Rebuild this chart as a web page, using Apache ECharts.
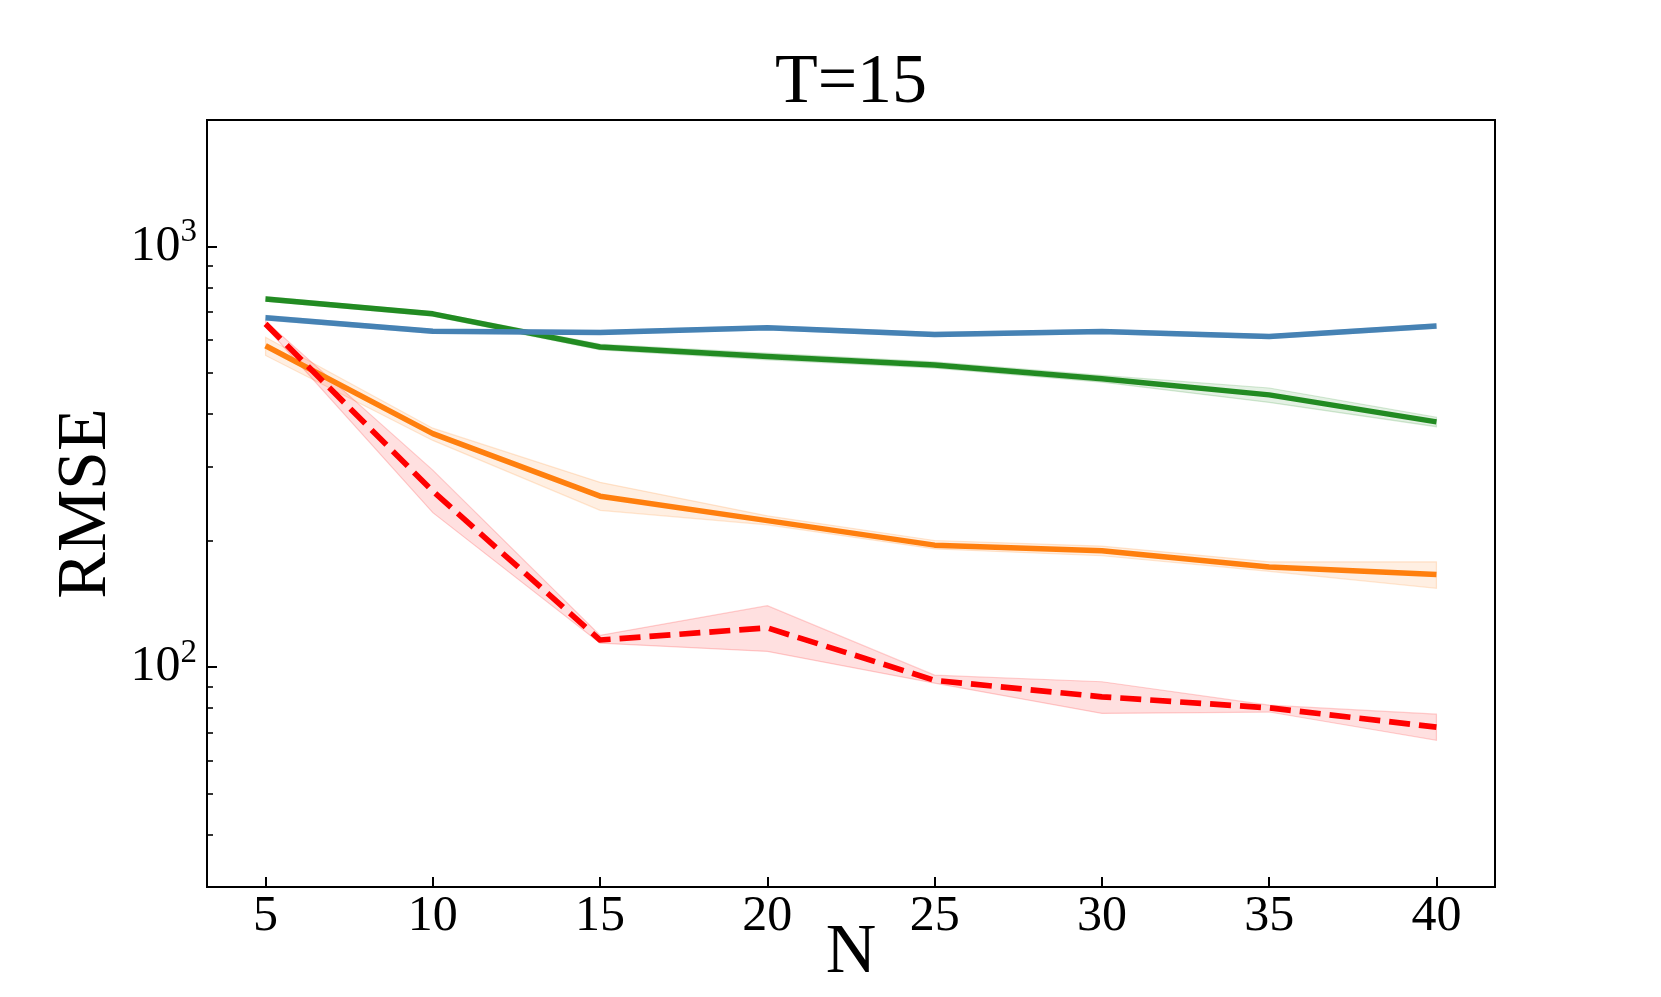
<!DOCTYPE html>
<html>
<head>
<meta charset="utf-8">
<script src="https://cdn.jsdelivr.net/npm/echarts@6/dist/echarts.min.js"></script>
<style>
html,body{margin:0;padding:0;background:#fff;}
#chart{width:1661px;height:997px;}
</style>
</head>
<body>
<div id="chart"></div>
<script>
// ---- data ----
const N = [5, 10, 15, 20, 25, 30, 35, 40];
const xTicks = [5, 10, 15, 20, 25, 30, 35, 40];
const yMajorTicks = [100, 1000];
const yMinorTicks = [40, 50, 60, 70, 80, 90, 200, 300, 400, 500, 600, 700, 800, 900];

const blueMean   = [677, 629, 625, 641, 618, 628, 611, 647];
const blueLo     = [668, 622, 618, 634, 611, 621, 604, 639];
const blueHi     = [686, 636, 632, 648, 625, 635, 618, 655];

const greenMean  = [751, 692, 577, 548, 523, 485, 444, 383];
const greenLo    = [742, 683, 568, 538, 514, 476, 426, 373];
const greenHi    = [760, 700, 586, 558, 532, 494, 461, 393];

const orangeMean = [581, 359, 255, 223, 195, 189, 173, 166];
const orangeLo   = [551, 346, 236, 218, 191, 184, 169, 154];
const orangeHi   = [609, 370, 275, 229, 200, 194, 178, 178];

const redMean    = [655, 262, 116, 124, 93, 85, 80, 72];
const redLo      = [645, 233, 114, 109, 91.6, 77.6, 78.2, 67];
const redHi      = [665, 294, 119, 140, 95.7, 92.3, 81.2, 77.3];

const titleText = 'T=15';
const xName = 'N';
const yName = 'RMSE';

// ---- chart ----
const FONT = '"Liberation Serif", "DejaVu Serif", serif';
const chart = echarts.init(document.getElementById('chart'), null, {renderer: 'canvas'});

function pairs(ys) { return N.map((x, i) => [x, ys[i]]); }

// shaded band between lo and hi, drawn as one polygon through the axis scales
function band(name, lo, hi, rgb, alpha) {
  const rows = N.map((x, i) => [x, lo[i], hi[i]]);
  return {
    type: 'custom', name: name + ' band', data: rows, silent: true, z: 1,
    encode: {x: 0, y: [1, 2]},
    renderItem: function (params, api) {
      if (params.dataIndex !== 0) return null;
      const upper = rows.map(r => api.coord([r[0], r[2]]));
      const lower = rows.map(r => api.coord([r[0], r[1]])).reverse();
      return {
        type: 'polygon',
        shape: {points: upper.concat(lower)},
        style: {
          fill: 'rgba(' + rgb + ',' + alpha + ')',
          stroke: 'rgba(' + rgb + ',' + (alpha + 0.06) + ')',
          lineWidth: 1.2
        }
      };
    }
  };
}

function mainLine(name, ys, color, dashed) {
  return {
    type: 'line', name: name, data: pairs(ys), symbol: 'none', z: 3,
    lineStyle: {
      width: dashed ? 5.7 : 5.5, color: color, join: 'round',
      type: dashed ? [21, 9] : 'solid', cap: 'butt'
    }
  };
}

const series = [
  band('green', greenLo, greenHi, '34,139,34', 0.12),
  band('blue', blueLo, blueHi, '70,130,180', 0.12),
  band('orange', orangeLo, orangeHi, '255,127,14', 0.12),
  band('red', redLo, redHi, '255,0,0', 0.12),
  mainLine('green', greenMean, '#228b22', false),
  mainLine('blue', blueMean, '#4682b4', false),
  mainLine('orange', orangeMean, '#ff7f0e', false),
  mainLine('red', redMean, '#ff0000', true)
];

const option = {
  animation: false,
  backgroundColor: '#ffffff',
  grid: {
    left: 207, top: 120, width: 1288, height: 767,
    outerBoundsMode: 'none', containLabel: false,
    show: true, borderColor: '#000', borderWidth: 2, backgroundColor: 'transparent'
  },
  graphic: [{
    type: 'text', x: 851, y: 84, silent: true,
    style: {text: titleText, font: '70px ' + FONT, fill: '#000', align: 'center', verticalAlign: 'middle'}
  }],
  xAxis: {
    type: 'value', min: 3.25, max: 41.75,
    name: xName, nameLocation: 'middle', nameGap: 32, nameMoveOverlap: false,
    nameTextStyle: {fontFamily: FONT, fontSize: 70, color: '#000'},
    axisLine: {show: true, lineStyle: {color: '#000', width: 2}},
    axisTick: {show: true, inside: true, length: 10, customValues: xTicks, lineStyle: {color: '#000', width: 2}},
    axisLabel: {show: true, customValues: xTicks, margin: 5, fontFamily: FONT, fontSize: 50, color: '#000'},
    splitLine: {show: false}
  },
  yAxis: [
    {
      type: 'log', logBase: 10, min: 30, max: 2000,
      name: yName, nameLocation: 'middle', nameGap: 85, nameRotate: 90, nameMoveOverlap: false,
      nameTextStyle: {fontFamily: FONT, fontSize: 70, color: '#000'},
      axisLine: {show: true, lineStyle: {color: '#000', width: 2}},
      axisTick: {show: true, inside: true, length: 10, customValues: yMajorTicks, lineStyle: {color: '#000', width: 2}},
      axisLabel: {
        show: true, customValues: yMajorTicks, margin: 10,
        formatter: function (v) { return '{b|10}{s|' + Math.round(Math.log10(v)) + '}'; },
        rich: {
          b: {fontFamily: FONT, fontSize: 50, color: '#000', lineHeight: 56},
          s: {fontFamily: FONT, fontSize: 33, color: '#000', lineHeight: 33, padding: [0, 0, 28, 0]}
        }
      },
      splitLine: {show: false}, minorTick: {show: false}
    },
    {
      type: 'log', logBase: 10, min: 30, max: 2000, position: 'left',
      axisLine: {show: false},
      axisTick: {show: true, inside: true, length: 6, customValues: yMinorTicks, lineStyle: {color: '#000', width: 1.6}},
      axisLabel: {show: false},
      splitLine: {show: false}
    }
  ],
  series: series
};
chart.setOption(option);
</script>
</body>
</html>
